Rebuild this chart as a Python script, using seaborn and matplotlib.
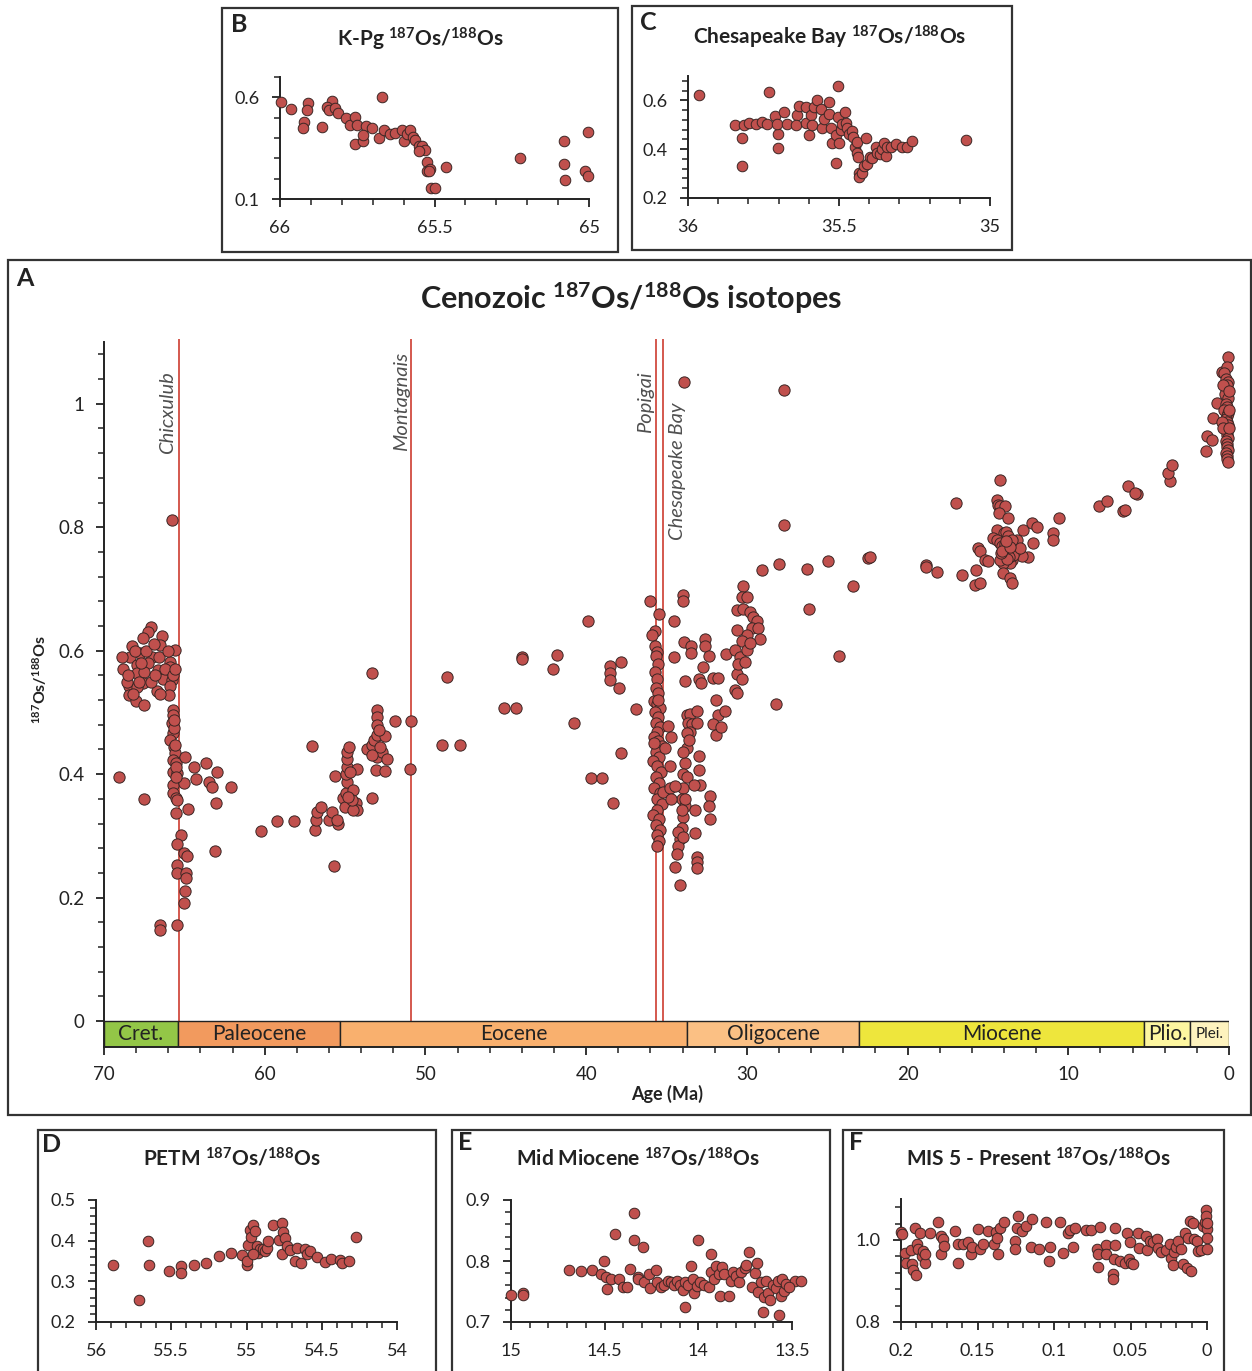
import pandas as pd
import matplotlib
matplotlib.use("Agg")
import matplotlib.pyplot as plt
from matplotlib.patches import Rectangle
from matplotlib.ticker import MultipleLocator, FixedLocator, FuncFormatter
import seaborn as sns

W, H = 1252, 1371
FONT = "Lato"

sns.set_style("ticks")
plt.rcParams["font.family"] = [FONT, "DejaVu Sans"]
plt.rcParams["mathtext.fontset"] = "custom"
plt.rcParams["mathtext.rm"] = FONT
plt.rcParams["mathtext.bf"] = FONT + ":bold"
plt.rcParams["mathtext.it"] = FONT + ":italic"

DOT = "#C0504D"
EDGE = "#3b2624"
IMPACT = "#D4584E"
INK = "#222222"
BOX = "#333333"
OS = r"$^{\mathbf{187}}$Os/$^{\mathbf{188}}$Os"

# ---------------- Panel A data (age in Ma, 187Os/188Os) ----------------
a_cret_age = [67.08, 67.24, 66.39, 68.26, 67.60, 66.50, 65.60, 68.40, 67.76, 67.04,
              65.90, 67.97, 67.26, 66.64, 65.90, 67.97, 67.50, 66.35, 65.80, 68.43,
              67.55, 67.97, 66.72, 65.90, 68.43, 68.03, 67.50, 65.95, 68.80, 68.60,
              68.10, 67.70, 67.40, 66.90, 66.60, 66.20, 66.00, 65.70, 65.60, 68.90,
              68.50, 67.10, 66.80, 67.80, 68.20, 66.50, 69.07, 67.50, 65.77, 66.50,
              66.50, 65.46]
a_cret_os = [0.639, 0.630, 0.624, 0.608, 0.621, 0.609, 0.601, 0.590, 0.596, 0.590,
             0.582, 0.577, 0.580, 0.569, 0.574, 0.564, 0.566, 0.554, 0.553, 0.543,
             0.548, 0.541, 0.535, 0.543, 0.528, 0.519, 0.512, 0.528, 0.570, 0.550,
             0.600, 0.580, 0.600, 0.610, 0.590, 0.570, 0.600, 0.560, 0.570, 0.590,
             0.560, 0.550, 0.560, 0.550, 0.530, 0.530, 0.395, 0.360, 0.811, 0.156,
             0.147, 0.156]

a_kpg_age = [65.70, 65.73, 65.79, 65.70, 65.90, 65.66, 65.60, 65.70, 65.53, 65.70,
             65.46, 65.70, 65.73, 65.53, 65.46, 65.53, 65.00, 64.96, 64.40, 63.67,
             64.27, 63.00, 63.47, 63.30, 62.10, 63.05, 64.76, 63.09, 65.20, 65.48,
             65.00, 64.86, 65.44, 65.44, 64.92, 64.92, 64.96, 65.02, 65.62, 65.58,
             65.66, 65.55, 65.52]
a_kpg_os = [0.504, 0.496, 0.483, 0.467, 0.455, 0.444, 0.434, 0.423, 0.418, 0.404,
            0.402, 0.382, 0.370, 0.361, 0.358, 0.337, 0.386, 0.428, 0.412, 0.418,
            0.392, 0.404, 0.387, 0.379, 0.379, 0.353, 0.344, 0.276, 0.301, 0.287,
            0.272, 0.267, 0.253, 0.240, 0.240, 0.232, 0.211, 0.191, 0.475, 0.448,
            0.488, 0.412, 0.395]

a_petm_age = [60.25, 59.26, 58.16, 57.04, 56.87, 56.80, 56.77, 56.52, 56.02, 55.83,
              55.42, 55.52, 55.63, 55.67, 55.10, 55.00, 54.94, 54.90, 54.94, 54.90,
              54.90, 54.90, 54.74, 54.49, 54.32, 54.28, 54.49, 54.60, 54.24, 54.70,
              54.80, 53.33, 53.65, 53.35, 53.20, 53.03, 52.50, 53.03, 52.72, 52.40,
              53.08, 52.50, 53.35, 52.99, 52.99, 52.99, 52.87, 52.80, 53.33, 51.88,
              50.92, 50.96, 48.98, 47.85, 48.67]
a_petm_os = [0.308, 0.324, 0.324, 0.446, 0.310, 0.326, 0.339, 0.347, 0.326, 0.339,
             0.319, 0.326, 0.397, 0.251, 0.361, 0.347, 0.370, 0.387, 0.400, 0.412,
             0.424, 0.436, 0.444, 0.374, 0.353, 0.342, 0.342, 0.358, 0.408, 0.404,
             0.363, 0.361, 0.441, 0.447, 0.455, 0.464, 0.461, 0.428, 0.436, 0.424,
             0.407, 0.405, 0.431, 0.504, 0.493, 0.480, 0.472, 0.444, 0.564, 0.486,
             0.486, 0.408, 0.447, 0.447, 0.558]

a_eoc_age = [39.86, 43.97, 43.97, 41.80, 42.04, 38.53, 38.53, 38.51, 37.85, 37.95,
             45.11, 44.36, 40.73, 37.81, 39.72, 39.00, 38.35, 36.92, 36.02, 35.44,
             35.69, 35.92]
a_eoc_os = [0.648, 0.590, 0.586, 0.593, 0.571, 0.575, 0.564, 0.553, 0.581, 0.540,
            0.507, 0.507, 0.483, 0.434, 0.394, 0.394, 0.354, 0.506, 0.681, 0.660,
            0.632, 0.625]

a_popi_age = [35.69, 35.57, 35.63, 35.51, 35.70, 35.57, 35.65, 35.51, 35.78, 35.61,
              35.40, 35.72, 35.51, 35.65, 35.40, 35.61, 35.78, 35.51, 35.30, 35.65,
              35.44, 35.82, 35.57, 35.36, 35.65, 35.49, 35.78, 35.40, 35.61, 35.30,
              35.57, 35.82, 35.44, 35.65, 35.40, 35.57, 35.44, 35.61, 35.08, 35.20,
              35.75, 35.55]
a_popi_os = [0.607, 0.598, 0.591, 0.578, 0.566, 0.554, 0.539, 0.531, 0.519, 0.513,
             0.507, 0.501, 0.492, 0.483, 0.477, 0.469, 0.460, 0.454, 0.445, 0.436,
             0.427, 0.421, 0.413, 0.404, 0.395, 0.386, 0.377, 0.369, 0.360, 0.351,
             0.342, 0.333, 0.327, 0.318, 0.310, 0.301, 0.292, 0.283, 0.442, 0.371,
             0.450, 0.520]

a_eo_ol_age = [33.75, 33.54, 33.12, 33.65, 33.44, 33.54, 33.75, 33.12, 33.85, 33.96,
               33.71, 33.96, 34.06, 33.85, 33.96, 34.06, 34.16, 34.27, 34.37, 34.47,
               34.16, 33.12, 33.12, 33.12, 33.22, 32.29, 32.33, 32.29, 33.22, 32.90,
               33.32, 32.96, 32.96, 34.78, 34.47, 34.73, 34.88, 34.73, 34.78, 33.75,
               33.60, 33.96, 33.85, 34.06, 34.27, 33.96]
a_eo_ol_os = [0.495, 0.498, 0.502, 0.483, 0.481, 0.469, 0.466, 0.483, 0.418, 0.401,
              0.395, 0.377, 0.360, 0.348, 0.330, 0.312, 0.295, 0.283, 0.271, 0.250,
              0.221, 0.265, 0.257, 0.248, 0.304, 0.365, 0.348, 0.327, 0.342, 0.383,
              0.383, 0.407, 0.430, 0.378, 0.380, 0.360, 0.478, 0.460, 0.413, 0.442,
              0.456, 0.436, 0.360, 0.342, 0.307, 0.298]

a_olig_age = [33.91, 34.00, 34.00, 34.53, 34.53, 33.89, 33.47, 33.47, 32.60, 32.60,
              32.38, 31.30, 32.71, 33.85, 32.97, 32.87, 32.08, 31.77, 31.94, 31.79,
              31.35, 32.10, 31.95, 31.64, 30.22, 30.32, 30.01, 30.63, 30.22, 29.80,
              29.60, 29.39, 29.70, 29.28, 29.18, 30.01, 30.63, 30.32, 30.74, 30.42,
              30.01, 29.80, 30.63, 30.74, 30.63, 30.32, 30.53, 30.10, 27.69, 27.69,
              29.03, 27.98, 26.28, 24.97, 22.44, 23.42, 26.13, 24.29, 28.18]
a_olig_os = [1.036, 0.690, 0.681, 0.648, 0.589, 0.614, 0.608, 0.596, 0.619, 0.608,
             0.592, 0.594, 0.573, 0.551, 0.554, 0.548, 0.555, 0.555, 0.520, 0.496,
             0.502, 0.481, 0.464, 0.476, 0.704, 0.687, 0.687, 0.666, 0.667, 0.663,
             0.654, 0.648, 0.637, 0.637, 0.619, 0.625, 0.634, 0.616, 0.601, 0.589,
             0.601, 0.613, 0.563, 0.536, 0.531, 0.554, 0.578, 0.581, 1.023, 0.803,
             0.731, 0.740, 0.732, 0.746, 0.750, 0.704, 0.667, 0.591, 0.514]

a_mio_age = [22.33, 18.85, 18.85, 18.18, 16.63, 17.00, 15.80, 15.49, 15.74, 15.59,
             15.49, 15.18, 14.97, 14.28, 14.45, 14.35, 14.25, 13.93, 14.29, 13.73,
             14.45, 14.00, 13.90, 14.66, 14.45, 14.25, 13.83, 13.52, 13.21, 12.80,
             12.28, 11.96, 12.17, 12.48, 12.90, 13.31, 13.52, 13.62, 14.04, 14.25,
             14.04, 13.62, 13.52, 13.83, 13.41, 13.73, 13.21, 12.99, 10.55, 10.93,
             10.93, 8.07, 7.57, 6.57, 6.50, 6.30, 5.74, 5.84, 3.67, 3.77,
             3.56, 13.90, 14.10, 13.70, 13.60, 14.00, 13.80, 14.20, 13.50, 13.95,
             14.15, 13.65, 13.85]
a_mio_os = [0.751, 0.739, 0.735, 0.727, 0.722, 0.839, 0.707, 0.709, 0.731, 0.766,
            0.762, 0.747, 0.746, 0.877, 0.844, 0.836, 0.834, 0.834, 0.823, 0.815,
            0.796, 0.791, 0.793, 0.782, 0.780, 0.774, 0.774, 0.771, 0.769, 0.796,
            0.807, 0.801, 0.774, 0.752, 0.754, 0.761, 0.747, 0.742, 0.742, 0.747,
            0.726, 0.717, 0.709, 0.763, 0.755, 0.785, 0.780, 0.766, 0.815, 0.791,
            0.780, 0.834, 0.842, 0.826, 0.828, 0.866, 0.854, 0.855, 0.875, 0.888,
            0.901, 0.760, 0.770, 0.752, 0.775, 0.765, 0.748, 0.758, 0.780, 0.772,
            0.762, 0.768, 0.778]

a_recent_age = [1.45, 1.39, 1.08, 0.98, 0.77, 0.41, 0.05, 0.10, 0.30, 0.20,
                0.05, 0.15, 0.10, 0.25, 0.05, 0.20, 0.10, 0.30, 0.05, 0.15,
                0.20, 0.10, 0.05, 0.25, 0.15, 0.10, 0.05, 0.20, 0.10, 0.15,
                0.05, 0.20, 0.10, 0.15, 0.05, 0.40, 0.45, 0.35, 0.00, 0.00,
                0.00]
a_recent_os = [0.923, 0.947, 0.942, 0.977, 1.001, 1.052, 1.075, 1.060, 1.050, 1.040,
               1.035, 1.030, 1.020, 1.015, 1.010, 1.000, 0.995, 0.990, 0.985, 0.980,
               0.975, 0.970, 0.965, 0.960, 0.955, 0.950, 0.945, 0.940, 0.935, 0.930,
               0.925, 0.920, 0.915, 0.910, 0.905, 1.030, 0.970, 0.960, 1.020, 0.990,
               0.960]

# epochs (older boundary, younger boundary), labels, colours
epoch_names = ["Cret.", "Paleocene", "Eocene", "Oligocene", "Miocene", "Plio.", "Plei."]
epoch_start = [70.0, 65.4, 55.3, 33.7, 23.0, 5.3, 2.4]
epoch_end = [65.4, 55.3, 33.7, 23.0, 5.3, 2.4, 0.0]
epoch_colors = ["#93C647", "#F29A5E", "#F9B06E", "#FBC084", "#EEE63C", "#FDF6A0", "#FEF3BE"]

impact_names = ["Chicxulub", "Montagnais", "Popigai", "Chesapeake Bay"]
impact_age = [65.35, 50.9, 35.65, 35.2]

# ---------------- Inset data ----------------
kpg_age = [65.997, 65.964, 65.908, 65.914, 65.922, 65.924, 65.863, 65.832, 65.849, 65.843,
           65.822, 65.813, 65.786, 65.773, 65.757, 65.751, 65.757, 65.732, 65.721, 65.703,
           65.730, 65.681, 65.670, 65.665, 65.643, 65.627, 65.605, 65.600, 65.589, 65.578,
           65.570, 65.562, 65.551, 65.541, 65.530, 65.551, 65.524, 65.524, 65.514, 65.519,
           65.511, 65.500, 65.462, 65.224, 65.081, 65.081, 65.079, 65.014, 65.003, 65.002]
kpg_os = [0.579, 0.543, 0.574, 0.538, 0.477, 0.448, 0.456, 0.584, 0.554, 0.538,
          0.546, 0.525, 0.497, 0.464, 0.502, 0.464, 0.371, 0.383, 0.459, 0.448,
          0.415, 0.399, 0.603, 0.437, 0.420, 0.424, 0.437, 0.383, 0.420, 0.437,
          0.407, 0.391, 0.363, 0.363, 0.339, 0.334, 0.281, 0.240, 0.247, 0.236,
          0.154, 0.154, 0.255, 0.301, 0.386, 0.272, 0.191, 0.236, 0.211, 0.428]

ches_age = [35.964, 35.844, 35.820, 35.820, 35.814, 35.798, 35.776, 35.754, 35.737, 35.732,
            35.713, 35.702, 35.702, 35.704, 35.682, 35.671, 35.638, 35.643, 35.632, 35.610,
            35.610, 35.599, 35.594, 35.588, 35.583, 35.572, 35.561, 35.556, 35.550, 35.533,
            35.533, 35.528, 35.522, 35.511, 35.511, 35.502, 35.502, 35.500, 35.494, 35.489,
            35.480, 35.478, 35.473, 35.467, 35.458, 35.454, 35.447, 35.439, 35.442, 35.436,
            35.434, 35.434, 35.423, 35.417, 35.412, 35.406, 35.398, 35.390, 35.379, 35.373,
            35.365, 35.357, 35.351, 35.345, 35.340, 35.329, 35.312, 35.292, 35.274, 35.257,
            35.081]
ches_os = [0.623, 0.501, 0.444, 0.333, 0.501, 0.508, 0.505, 0.512, 0.505, 0.634,
           0.535, 0.464, 0.403, 0.505, 0.553, 0.505, 0.539, 0.498, 0.576, 0.573,
           0.508, 0.458, 0.539, 0.498, 0.573, 0.600, 0.566, 0.485, 0.525, 0.593,
           0.546, 0.485, 0.424, 0.342, 0.458, 0.661, 0.532, 0.424, 0.478, 0.502,
           0.553, 0.508, 0.485, 0.464, 0.475, 0.451, 0.410, 0.430, 0.383, 0.369,
           0.304, 0.288, 0.302, 0.331, 0.444, 0.340, 0.369, 0.363, 0.410, 0.386,
           0.380, 0.399, 0.424, 0.372, 0.410, 0.410, 0.420, 0.410, 0.410, 0.433,
           0.437]

petm_age = [55.889, 55.711, 55.656, 55.651, 55.516, 55.433, 55.433, 55.351, 55.267, 55.184,
            55.100, 55.029, 55.000, 55.000, 54.989, 54.978, 54.967, 54.956, 54.944, 54.933,
            54.922, 54.911, 54.889, 54.878, 54.867, 54.856, 54.956, 54.822, 54.782, 54.767,
            54.762, 54.760, 54.744, 54.729, 54.711, 54.678, 54.667, 54.638, 54.611, 54.600,
            54.578, 54.529, 54.478, 54.438, 54.378, 54.367, 54.316, 54.273]
petm_os = [0.339, 0.253, 0.400, 0.339, 0.326, 0.337, 0.321, 0.341, 0.345, 0.363,
           0.370, 0.364, 0.341, 0.349, 0.390, 0.427, 0.408, 0.439, 0.424, 0.386,
           0.370, 0.380, 0.380, 0.374, 0.383, 0.400, 0.367, 0.439, 0.402, 0.443,
           0.366, 0.421, 0.406, 0.386, 0.378, 0.351, 0.383, 0.345, 0.380, 0.366,
           0.375, 0.359, 0.348, 0.356, 0.353, 0.345, 0.351, 0.410]

mmio_age = [15.000, 14.936, 14.936, 14.691, 14.627, 14.566, 14.521, 14.503, 14.493, 14.488,
            14.466, 14.444, 14.426, 14.402, 14.380, 14.365, 14.342, 14.343, 14.323, 14.320,
            14.296, 14.292, 14.265, 14.256, 14.228, 14.223, 14.201, 14.182, 14.164, 14.146,
            14.128, 14.115, 14.100, 14.082, 14.069, 14.069, 14.054, 14.040, 14.027, 14.021,
            14.009, 14.003, 13.990, 13.972, 13.945, 13.935, 13.932, 13.917, 13.908, 13.890,
            13.886, 13.871, 13.862, 13.838, 13.826, 13.813, 13.798, 13.784, 13.771, 13.749,
            13.743, 13.729, 13.716, 13.698, 13.685, 13.679, 13.667, 13.656, 13.648, 13.637,
            13.630, 13.616, 13.601, 13.588, 13.575, 13.570, 13.560, 13.551, 13.542, 13.533,
            13.484, 13.454, 13.515]
mmio_os = [0.745, 0.747, 0.744, 0.785, 0.783, 0.785, 0.779, 0.800, 0.774, 0.754,
           0.771, 0.844, 0.770, 0.758, 0.758, 0.787, 0.878, 0.834, 0.774, 0.770,
           0.823, 0.766, 0.779, 0.755, 0.785, 0.765, 0.758, 0.760, 0.768, 0.766,
           0.760, 0.767, 0.760, 0.752, 0.766, 0.725, 0.760, 0.792, 0.771, 0.747,
           0.759, 0.835, 0.766, 0.761, 0.758, 0.782, 0.811, 0.770, 0.792, 0.779,
           0.743, 0.790, 0.778, 0.743, 0.768, 0.782, 0.776, 0.766, 0.782, 0.789,
           0.794, 0.815, 0.758, 0.781, 0.796, 0.750, 0.766, 0.716, 0.741, 0.768,
           0.747, 0.736, 0.761, 0.755, 0.768, 0.711, 0.743, 0.770, 0.751, 0.763,
           0.767, 0.768, 0.758]

mis_age = [0.2000, 0.1996, 0.1974, 0.1967, 0.1935, 0.1926, 0.1919, 0.1909, 0.1902, 0.1898,
           0.1887, 0.1876, 0.1865, 0.1854, 0.1843, 0.1843, 0.1811, 0.1756, 0.1739, 0.1724,
           0.1739, 0.1717, 0.1647, 0.1630, 0.1626, 0.1593, 0.1560, 0.1543, 0.1539, 0.1495,
           0.1484, 0.1462, 0.1430, 0.1391, 0.1380, 0.1375, 0.1364, 0.1354, 0.1325, 0.1256,
           0.1256, 0.1245, 0.1238, 0.1208, 0.1186, 0.1147, 0.1151, 0.1099, 0.1055, 0.1034,
           0.1027, 0.0962, 0.0940, 0.0907, 0.0896, 0.0875, 0.0864, 0.0794, 0.0755, 0.0712,
           0.0716, 0.0712, 0.0701, 0.0657, 0.0657, 0.0614, 0.0614, 0.0603, 0.0599, 0.0607,
           0.0570, 0.0538, 0.0520, 0.0511, 0.0505, 0.0494, 0.0483, 0.0450, 0.0446, 0.0396,
           0.0390, 0.0374, 0.0353, 0.0324, 0.0320, 0.0303, 0.0266, 0.0244, 0.0233, 0.0222,
           0.0216, 0.0200, 0.0189, 0.0172, 0.0157, 0.0141, 0.0128, 0.0124, 0.0113, 0.0102,
           0.0091, 0.0085, 0.0063, 0.0059, 0.0037, 0.0026, 0.0015, 0.0007, 0.0007, 0.0000,
           0.0000, 0.0000, 0.0000]
mis_os = [1.019, 1.014, 0.969, 0.945, 0.976, 0.941, 0.927, 1.030, 0.915, 0.990,
          0.979, 1.018, 0.960, 0.973, 0.944, 0.965, 1.018, 1.044, 1.010, 1.002,
          0.965, 0.985, 1.022, 0.990, 0.944, 0.990, 0.994, 0.965, 0.984, 1.026,
          0.979, 0.990, 1.022, 0.990, 1.019, 1.006, 0.965, 1.030, 1.044, 0.998,
          0.979, 1.030, 1.058, 1.022, 1.034, 1.052, 0.984, 0.979, 1.044, 0.949,
          0.984, 1.044, 0.969, 1.018, 1.024, 0.984, 1.030, 1.024, 1.024, 0.933,
          0.977, 0.965, 1.031, 0.987, 0.965, 0.917, 0.905, 1.030, 0.987, 0.953,
          0.949, 0.944, 1.018, 0.953, 0.994, 0.945, 0.941, 1.018, 0.981, 1.010,
          0.976, 0.998, 0.994, 1.002, 0.981, 0.971, 0.976, 0.990, 0.957, 0.939,
          0.971, 0.984, 0.998, 0.979, 0.941, 1.018, 0.931, 1.006, 1.046, 0.925,
          1.042, 1.002, 0.998, 0.973, 0.976, 1.034, 1.044, 1.073, 1.058, 1.026,
          1.006, 0.979, 1.042]


def frame_df(age, os_):
    return pd.DataFrame({"age": age, "os": os_})


main_df = pd.concat([frame_df(a_cret_age, a_cret_os), frame_df(a_kpg_age, a_kpg_os),
                     frame_df(a_petm_age, a_petm_os), frame_df(a_eoc_age, a_eoc_os),
                     frame_df(a_popi_age, a_popi_os), frame_df(a_eo_ol_age, a_eo_ol_os),
                     frame_df(a_olig_age, a_olig_os), frame_df(a_mio_age, a_mio_os),
                     frame_df(a_recent_age, a_recent_os)], ignore_index=True)

fig = plt.figure(figsize=(W / 100, H / 100), dpi=100)


def px_axes(x0, y0, x1, y1):
    return fig.add_axes([x0 / W, 1 - y1 / H, (x1 - x0) / W, (y1 - y0) / H])


def box(x0, y0, x1, y1):
    fig.patches.append(Rectangle((x0 / W, 1 - y1 / H), (x1 - x0) / W, (y1 - y0) / H,
                                 transform=fig.transFigure, fill=False,
                                 edgecolor=BOX, linewidth=1.6, zorder=0))


def ftext(x, y, s, **kw):
    fig.text(x / W, 1 - y / H, s, **kw)


def style(ax, labelsize=13, pad=8):
    sns.despine(ax=ax)
    for side in ["left", "bottom"]:
        ax.spines[side].set_linewidth(1.4)
        ax.spines[side].set_color(INK)
    ax.tick_params(which="major", direction="out", length=6, width=1.3,
                   colors=INK, labelsize=labelsize, pad=pad)
    ax.tick_params(which="minor", direction="out", length=4, width=1.1, colors=INK)
    ax.set_xlabel("")
    ax.set_ylabel("")


def dots(ax, df, s):
    sns.scatterplot(data=df, x="age", y="os", ax=ax, color=DOT, edgecolor=EDGE,
                    linewidth=0.7, s=s, legend=False, zorder=3, clip_on=False)


# ---------------- Panel A ----------------
box(8, 260, 1251, 1115)
ax = px_axes(104, 342, 1229, 1047)
dots(ax, main_df, 66)
ax.set_xlim(70, 0)
ax.set_ylim(-0.042, 1.1)

ax.barh(y=-0.021, width=[s - e for s, e in zip(epoch_start, epoch_end)], left=epoch_end,
        height=0.042, color=epoch_colors, edgecolor=INK, linewidth=1.0, zorder=2)
for name, s, e in zip(epoch_names, epoch_start, epoch_end):
    ax.text((s + e) / 2, -0.021, name, ha="center", va="center",
            fontsize=11 if name == "Plei." else 15, color=INK, zorder=4)

ax.vlines(impact_age, 0, 1.105, colors=IMPACT, linewidth=1.4, zorder=1, clip_on=False)
label_pos = [(66.05, 1.053), (51.5, 1.084), (36.3, 1.052), (34.3, 1.002)]
for name, (x, y) in zip(impact_names, label_pos):
    ax.text(x, y, name, rotation=90, ha="center", va="top", style="italic",
            fontweight="normal", fontsize=14.5, color="#505050")

style(ax, labelsize=13.5, pad=8)
ax.set_xticks(range(70, -1, -10))
ax.xaxis.set_minor_locator(MultipleLocator(2))
ax.set_yticks([0, 0.2, 0.4, 0.6, 0.8, 1.0])
ax.yaxis.set_minor_locator(FixedLocator([v / 100 for v in range(4, 109, 4)]))
ax.xaxis.set_major_formatter(FuncFormatter(lambda v, p: f"{v:g}"))
ax.yaxis.set_major_formatter(FuncFormatter(lambda v, p: f"{v:g}"))

ftext(25, 278, "A", fontsize=18, fontweight="bold", ha="center", va="center", color=INK)
ftext(631, 298, "Cenozoic " + OS + " isotopes", fontsize=22, fontweight="bold",
      ha="center", va="center", color=INK)
ftext(40, 680, OS, rotation=90, fontsize=11.5, fontweight="bold",
      ha="center", va="center", color=INK)
ftext(667, 1094, "Age (Ma)", fontsize=13, fontweight="bold",
      ha="center", va="center", color=INK)


# ---------------- insets B-F ----------------
def inset(frame_px, ax_px, df, xlim, ylim, xticks, xminor, yticks, yminor,
          title, letter, title_xy, letter_xy, yfmt="{:g}"):
    box(*frame_px)
    a = px_axes(*ax_px)
    dots(a, df, 58)
    a.set_xlim(*xlim)
    a.set_ylim(*ylim)
    style(a, labelsize=13, pad=9)
    a.xaxis.set_major_locator(FixedLocator(xticks))
    a.xaxis.set_minor_locator(MultipleLocator(xminor))
    a.yaxis.set_major_locator(FixedLocator(yticks))
    a.yaxis.set_minor_locator(MultipleLocator(yminor))
    a.xaxis.set_major_formatter(FuncFormatter(lambda v, p: f"{v:g}"))
    a.yaxis.set_major_formatter(FuncFormatter(lambda v, p: yfmt.format(v)))
    ftext(*title_xy, title, fontsize=15, fontweight="bold", ha="center", va="center", color=INK)
    ftext(*letter_xy, letter, fontsize=18, fontweight="bold", ha="center", va="center", color=INK)
    return a


inset((222, 8, 618, 252), (280, 77, 589, 199), frame_df(kpg_age, kpg_os),
      (66, 65), (0.1, 0.7), [66, 65.5, 65], 0.1, [0.1, 0.6], 0.1,
      "K-Pg " + OS, "B", (420, 39), (239, 24))
inset((632, 6, 1012, 250), (688, 76, 990, 198), frame_df(ches_age, ches_os),
      (36, 35), (0.2, 0.7), [36, 35.5, 35], 0.1, [0.2, 0.4, 0.6], 0.04,
      "Chesapeake Bay " + OS, "C", (830, 37), (648, 22))
inset((38, 1130, 436, 1400), (96, 1200, 397, 1322), frame_df(petm_age, petm_os),
      (56, 54), (0.2, 0.5), [56, 55.5, 55, 54.5, 54], 0.1, [0.2, 0.3, 0.4, 0.5], 0.02,
      "PETM " + OS, "D", (232, 1158), (52, 1144))
inset((452, 1130, 830, 1400), (511, 1200, 792, 1322), frame_df(mmio_age, mmio_os),
      (15, 13.5), (0.7, 0.9), [15, 14.5, 14, 13.5], 0.1, [0.7, 0.8, 0.9], 0.02,
      "Mid Miocene " + OS, "E", (638, 1158), (465, 1143))
inset((843, 1130, 1224, 1400), (901, 1199, 1207, 1322), frame_df(mis_age, mis_os),
      (0.2, 0), (0.8, 1.1), [0.2, 0.15, 0.1, 0.05, 0], 0.01, [0.8, 1.0], 0.04,
      "MIS 5 - Present " + OS, "F", (1038, 1158), (856, 1143), yfmt="{:.1f}")

fig.savefig("out.png", dpi=100)
